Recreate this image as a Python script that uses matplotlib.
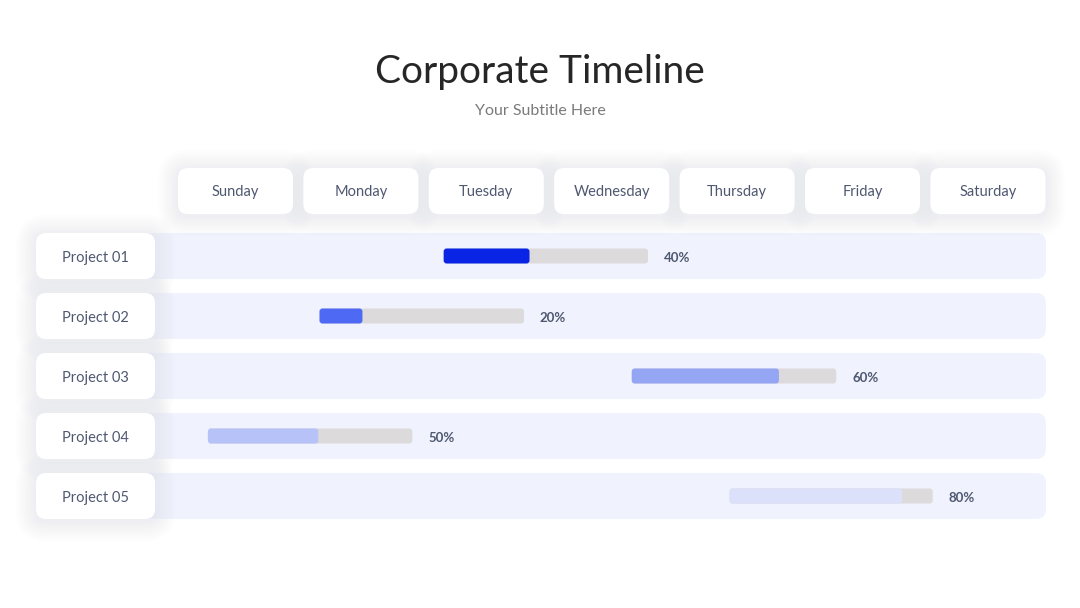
import matplotlib.pyplot as plt
from matplotlib.patches import FancyBboxPatch

plt.rcParams["font.family"] = ["Lato", "DejaVu Sans"]

days = ["Sunday", "Monday", "Tuesday", "Wednesday", "Thursday", "Friday", "Saturday"]
projects = ["Project 01", "Project 02", "Project 03", "Project 04", "Project 05"]
# start position in day units (0 = centre of Sunday column) and length in days
starts = [1.66, 0.67, 3.16, -0.22, 3.94]
durations = [1.63, 1.63, 1.63, 1.63, 1.62]
done = [0.42, 0.21, 0.72, 0.54, 0.85]
pct_labels = ["40%", "20%", "60%", "50%", "80%"]
fill_colors = ["#0A24E6", "#4E69F4", "#94A5F4", "#B7C2F9", "#DCE1FB"]

TRACK = "#DCDADB"
BAND = "#F0F2FD"
TEXT = "#4E5870"

# pixel geometry of the slide -> data units
PX_X = 125.4   # px per day
PX_Y = 60.0    # px per row
X0, Y0 = 235.5, 256.0
W, H = 1080, 608
ASPECT = PX_X / PX_Y


def dx(px):
    return px / PX_X


def dy(px):
    return px / PX_Y


def rbox(ax, x, y, w, h, radius_px, color, z, shadow=False):
    if shadow:
        # soft drop shadow built from a few faint, growing boxes
        for k in range(8):
            g = (k + 1) * 2.5
            ax.add_patch(FancyBboxPatch(
                (x - dx(g), y - dy(g) + dy(2)), w + 2 * dx(g), h + 2 * dy(g),
                boxstyle=f"round,pad=0,rounding_size={dx(radius_px + g)}",
                mutation_aspect=ASPECT, fc="#6E7078", ec="none", alpha=0.006,
                zorder=z - 0.5))
    ax.add_patch(FancyBboxPatch(
        (x, y), w, h, boxstyle=f"round,pad=0,rounding_size={dx(radius_px)}",
        mutation_aspect=ASPECT, fc=color, ec="none", zorder=z))


fig = plt.figure(figsize=(10.8, 6.08), dpi=100)
ax = fig.add_axes([0, 0, 1, 1])
ax.set_xlim(-X0 / PX_X, (W - X0) / PX_X)
ax.set_ylim((H - Y0) / PX_Y, -Y0 / PX_Y)
ax.axis("off")

fig.text(0.5, 1 - 72 / H, "Corporate Timeline", ha="center", va="center",
         fontsize=28, color="#262626")
fig.text(0.5, 1 - 111 / H, "Your Subtitle Here", ha="center", va="center",
         fontsize=11.5, color="#7A7A7A")

# day header boxes
hw = dx(115)
for i, d in enumerate(days):
    rbox(ax, i - hw / 2, dy(168 - Y0), hw, dy(46), 10, "white", 3, shadow=True)
    ax.text(i, dy(192 - Y0), d, ha="center", va="center", fontsize=10.5,
            color=TEXT, zorder=4)

band_left = dx(36 - X0)
band_right = dx(1046 - X0)
label_w = dx(119)
for r, name in enumerate(projects):
    rbox(ax, band_left, r - dy(23), band_right - band_left, dy(46), 10, BAND, 1)
    rbox(ax, band_left, r - dy(23), label_w, dy(46), 10, "white", 3, shadow=True)
    ax.text(band_left + label_w / 2, r + dy(2), name, ha="center", va="center",
            fontsize=10.5, color=TEXT, zorder=4)

bh = dy(15)
for r in range(len(projects)):
    rbox(ax, starts[r], r - bh / 2, durations[r], bh, 3, TRACK, 5)
    rbox(ax, starts[r], r - bh / 2, durations[r] * done[r], bh, 3, fill_colors[r], 6)
    ax.text(starts[r] + durations[r] + dx(16), r + dy(2), pct_labels[r],
            ha="left", va="center", fontsize=9.5, fontweight="bold",
            color=TEXT, zorder=6)

fig.savefig("out.png", dpi=100, facecolor="white")
